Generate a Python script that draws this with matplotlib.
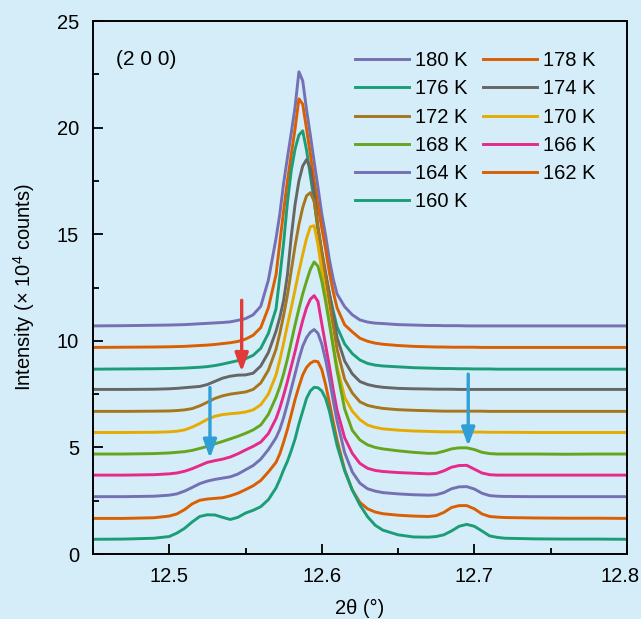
import matplotlib
matplotlib.use("Agg")
import matplotlib.pyplot as plt
import matplotlib.transforms as mtransforms
from matplotlib.ticker import MultipleLocator

plt.rcParams["font.family"] = ["Liberation Sans", "DejaVu Sans"]
plt.rcParams["mathtext.default"] = "regular"

# ── data ────────────────────────────────────────────────────────────────────
two_theta = [12.45, 12.47, 12.49, 12.50, 12.505, 12.51, 12.515, 12.52, 12.525, 12.53,
             12.535, 12.54, 12.545, 12.55, 12.555, 12.56, 12.565, 12.57, 12.5725, 12.575,
             12.5775, 12.58, 12.5825, 12.585, 12.5875, 12.59, 12.5925, 12.595, 12.5975, 12.60,
             12.6025, 12.605, 12.6075, 12.61, 12.615, 12.62, 12.625, 12.63, 12.635, 12.64,
             12.65, 12.66, 12.67, 12.675, 12.68, 12.685, 12.69, 12.695, 12.70, 12.705,
             12.71, 12.715, 12.72, 12.74, 12.76, 12.78, 12.80]

i180 = [10.70, 10.71, 10.73, 10.74, 10.75, 10.76, 10.78, 10.80, 10.82, 10.84,
        10.86, 10.89, 10.96, 11.04, 11.22, 11.62, 12.85, 14.8, 15.95, 17.4,
        18.6, 19.75, 20.97, 22.62, 22.2, 20.85, 19.65, 18.4, 17.2, 15.95,
        14.95, 13.8, 12.9, 12.2, 11.6, 11.22, 10.98, 10.88, 10.83, 10.81,
        10.76, 10.74, 10.72, 10.72, 10.71, 10.71, 10.71, 10.70, 10.70, 10.70,
        10.70, 10.70, 10.70, 10.70, 10.70, 10.70, 10.70]
i178 = [9.69, 9.70, 9.71, 9.72, 9.73, 9.74, 9.76, 9.78, 9.80, 9.83,
        9.87, 9.91, 9.97, 10.08, 10.26, 10.62, 11.55, 13.1, 14.6, 16.1,
        17.5, 18.75, 19.95, 21.35, 21.1, 19.95, 18.75, 17.5, 16.35, 15.3,
        14.3, 13.2, 12.3, 11.55, 10.75, 10.42, 10.12, 9.98, 9.89, 9.84,
        9.78, 9.74, 9.72, 9.71, 9.71, 9.70, 9.70, 9.70, 9.70, 9.69,
        9.69, 9.69, 9.69, 9.69, 9.69, 9.69, 9.69]
i176 = [8.67, 8.68, 8.69, 8.70, 8.71, 8.72, 8.74, 8.76, 8.79, 8.84,
        8.91, 8.99, 9.07, 9.16, 9.32, 9.65, 10.35, 11.5, 13.0, 14.6,
        16.5, 18.0, 19.0, 19.65, 19.85, 18.95, 17.75, 16.55, 15.2, 14.1,
        13.1, 12.2, 11.4, 10.65, 9.85, 9.4, 9.1, 8.94, 8.86, 8.82,
        8.78, 8.74, 8.72, 8.71, 8.70, 8.70, 8.69, 8.69, 8.68, 8.68,
        8.68, 8.67, 8.67, 8.67, 8.67, 8.67, 8.67]
i174 = [7.72, 7.72, 7.73, 7.75, 7.77, 7.80, 7.83, 7.86, 7.95, 8.10,
        8.25, 8.34, 8.39, 8.40, 8.48, 8.82, 9.45, 10.45, 11.1, 11.9,
        13.1, 14.9, 16.4, 17.5, 18.2, 18.5, 18.1, 16.95, 15.35, 14.2,
        13.2, 12.2, 11.2, 10.15, 9.05, 8.45, 8.09, 7.95, 7.87, 7.82,
        7.77, 7.75, 7.74, 7.73, 7.73, 7.73, 7.72, 7.72, 7.72, 7.72,
        7.72, 7.72, 7.72, 7.72, 7.72, 7.72, 7.72]
i172 = [6.69, 6.69, 6.70, 6.71, 6.73, 6.76, 6.82, 6.95, 7.12, 7.30,
        7.42, 7.50, 7.55, 7.60, 7.72, 8.02, 8.62, 9.6, 10.35, 11.2,
        12.15, 13.3, 14.45, 15.45, 16.25, 16.8, 16.95, 16.55, 15.3, 14.1,
        12.95, 11.8, 10.7, 9.6, 8.2, 7.55, 7.14, 6.97, 6.89, 6.83,
        6.77, 6.74, 6.72, 6.71, 6.70, 6.70, 6.70, 6.70, 6.70, 6.70,
        6.69, 6.69, 6.69, 6.69, 6.69, 6.69, 6.69]
i170 = [5.70, 5.70, 5.71, 5.73, 5.76, 5.82, 5.95, 6.12, 6.32, 6.46,
        6.54, 6.58, 6.61, 6.66, 6.76, 7.0, 7.5, 8.4, 9.1, 9.9,
        10.75, 11.55, 12.4, 13.25, 14.05, 14.8, 15.35, 15.4, 14.5, 13.3,
        12.1, 10.9, 9.8, 8.8, 7.35, 6.7, 6.3, 6.05, 5.94, 5.87,
        5.81, 5.77, 5.75, 5.74, 5.73, 5.73, 5.73, 5.72, 5.72, 5.72,
        5.71, 5.71, 5.71, 5.70, 5.70, 5.70, 5.70]
i168 = [4.69, 4.69, 4.71, 4.74, 4.77, 4.80, 4.86, 4.95, 5.05, 5.17,
        5.28, 5.40, 5.52, 5.66, 5.82, 6.05, 6.55, 7.35, 7.85, 8.45,
        9.15, 9.95, 10.75, 11.5, 12.2, 12.8, 13.35, 13.7, 13.5, 12.8,
        11.85, 10.8, 9.7, 8.6, 6.8, 5.8, 5.35, 5.12, 5.0, 4.93,
        4.84, 4.77, 4.72, 4.73, 4.82, 4.93, 4.98, 4.98, 4.90, 4.77,
        4.71, 4.69, 4.69, 4.69, 4.68, 4.69, 4.69]
i166 = [3.70, 3.70, 3.72, 3.76, 3.80, 3.88, 4.00, 4.15, 4.30, 4.38,
        4.45, 4.55, 4.70, 4.88, 5.05, 5.25, 5.65, 6.35, 6.85, 7.45,
        8.1, 8.8, 9.5, 10.25, 10.95, 11.55, 11.95, 12.12, 11.85, 10.8,
        9.8, 8.8, 7.7, 6.75, 5.45, 4.72, 4.25, 4.02, 3.92, 3.87,
        3.82, 3.79, 3.76, 3.78, 3.90, 4.07, 4.15, 4.16, 3.98, 3.80,
        3.72, 3.70, 3.70, 3.70, 3.70, 3.70, 3.70]
i164 = [2.69, 2.69, 2.71, 2.76, 2.82, 2.95, 3.12, 3.30, 3.42, 3.50,
        3.56, 3.62, 3.75, 3.95, 4.15, 4.45, 4.9, 5.45, 5.85, 6.4,
        7.05, 7.75, 8.45, 9.15, 9.75, 10.15, 10.4, 10.53, 10.35, 9.85,
        9.1, 8.2, 7.2, 6.25, 4.75, 3.85, 3.32, 3.06, 2.95, 2.88,
        2.82, 2.78, 2.76, 2.78, 2.88, 3.06, 3.15, 3.16, 3.05, 2.85,
        2.74, 2.71, 2.70, 2.69, 2.69, 2.69, 2.69]
i162 = [1.67, 1.67, 1.70, 1.78, 1.88, 2.08, 2.35, 2.52, 2.58, 2.61,
        2.64, 2.73, 2.85, 3.02, 3.2, 3.45, 3.85, 4.3, 4.7, 5.25,
        5.85, 6.55, 7.25, 7.85, 8.4, 8.75, 8.95, 9.05, 9.02, 8.65,
        7.95, 7.1, 6.2, 5.35, 3.95, 3.0, 2.42, 2.12, 1.97, 1.89,
        1.82, 1.78, 1.76, 1.80, 1.95, 2.18, 2.27, 2.27, 2.12, 1.88,
        1.76, 1.73, 1.71, 1.69, 1.68, 1.68, 1.67]
i160 = [0.69, 0.70, 0.74, 0.82, 0.98, 1.2, 1.5, 1.76, 1.84, 1.83,
        1.72, 1.62, 1.72, 1.92, 2.05, 2.22, 2.55, 3.1, 3.5, 3.95,
        4.35, 4.85, 5.4, 6.1, 6.7, 7.3, 7.65, 7.82, 7.8, 7.65,
        7.3, 6.7, 5.9, 5.1, 3.9, 3.0, 2.3, 1.75, 1.35, 1.12,
        0.90, 0.80, 0.79, 0.82, 0.90, 1.08, 1.30, 1.39, 1.30, 1.08,
        0.85, 0.78, 0.74, 0.71, 0.70, 0.70, 0.69]

labels = ["180 K", "178 K", "176 K", "174 K", "172 K", "170 K",
          "168 K", "166 K", "164 K", "162 K", "160 K"]
series = [i180, i178, i176, i174, i172, i170, i168, i166, i164, i162, i160]
colors = ["#7570b3", "#d95f02", "#1b9e77", "#666666", "#a6761d", "#e6ab02",
          "#66a61e", "#e7298a", "#7570b3", "#d95f02", "#1b9e77"]

# arrows marking the shoulder / extra peak
arrow_x = [12.5475, 12.5267, 12.696]
arrow_y_from = [11.9, 7.81, 8.44]
arrow_y_to = [8.55, 4.49, 5.06]
arrow_colors = ["#e03a3a", "#2f9fd6", "#2f9fd6"]

BG = "#d5edf9"

fig = plt.figure(figsize=(6.41, 6.19), dpi=100)
fig.patch.set_facecolor(BG)
ax = fig.add_axes([0.145, 0.105, 0.833, 0.861])
ax.set_facecolor(BG)

lines = []
for y, lab, c in zip(series, labels, colors):
    ln, = ax.plot(two_theta, y, color=c, lw=2.1, label=lab, solid_joinstyle="round")
    lines.append(ln)

for x, y0, y1, c in zip(arrow_x, arrow_y_from, arrow_y_to, arrow_colors):
    ax.annotate("", xy=(x, y1), xytext=(x, y0),
                arrowprops=dict(arrowstyle="-|>,head_length=0.55,head_width=0.2",
                                color=c, lw=2.4, shrinkA=0, shrinkB=0,
                                mutation_scale=20))

ax.set_xlim(12.45, 12.8)
ax.set_ylim(0, 25)
ax.xaxis.set_minor_locator(MultipleLocator(0.05))
ax.yaxis.set_major_locator(MultipleLocator(5))
ax.yaxis.set_minor_locator(MultipleLocator(2.5))
ax.set_xticks([12.5, 12.6, 12.7, 12.8])
ax.set_xticklabels(["12.5", "12.6", "12.7", "12.8"])

ax.tick_params(which="both", direction="in", width=1.3, labelsize=14.5,
               top=False, right=False)
ax.tick_params(axis="x", which="both", pad=9)
ax.tick_params(axis="y", which="both", pad=10)
ax.tick_params(which="major", length=7)
ax.tick_params(which="minor", length=4.5)
for sp in ax.spines.values():
    sp.set_linewidth(1.4)

# last x label sits a little left of its tick so it stays inside the figure
last = ax.get_xticklabels()[-1]
last.set_transform(last.get_transform() +
                   mtransforms.ScaledTranslation(-7 / 100, 0, fig.dpi_scale_trans))

ax.set_xlabel("2θ (°)", fontsize=14.5, labelpad=10)
ax.set_ylabel("Intensity (× 10$^{4}$ counts)", fontsize=14.5, labelpad=14)

ax.text(0.044, 0.927, "(2 0 0)", transform=ax.transAxes, fontsize=15,
        ha="left", va="center")

# legend filled row by row
order = [0, 2, 4, 6, 8, 10, 1, 3, 5, 7, 9]
ax.legend([lines[i] for i in order], [labels[i] for i in order],
          ncol=2, loc="upper left", bbox_to_anchor=(0.49, 0.943),
          frameon=False, fontsize=14.5, handlelength=2.7, handletextpad=0.3,
          columnspacing=0.75, labelspacing=0.45, borderpad=0, borderaxespad=0)

fig.savefig("out.png", dpi=100, facecolor=BG)
